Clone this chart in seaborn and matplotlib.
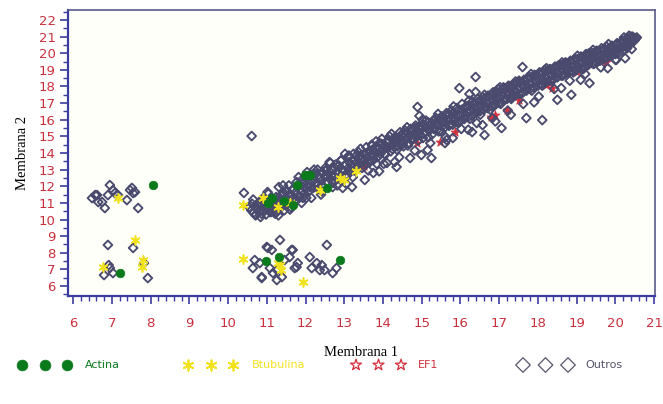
import numpy as np
import pandas as pd
import matplotlib
matplotlib.use("Agg")
import matplotlib.pyplot as plt
import seaborn as sns
from matplotlib.ticker import MultipleLocator

# ---------------- data ----------------
outros_x = [
    10.55,10.60,10.62,10.66,10.70,10.72,10.75,10.78,10.80,10.83,
    10.86,10.88,10.90,10.93,10.95,10.98,11.00,11.03,11.05,11.08,
    11.10,11.12,11.15,11.18,11.20,11.24,11.27,11.30,11.33,11.36,
    11.40,11.43,11.46,11.50,11.53,11.56,11.60,11.63,11.66,11.70,
    11.73,11.76,11.80,11.83,11.86,11.90,11.93,11.96,12.00,12.03,
    12.06,12.10,12.13,12.16,12.20,12.23,12.26,12.30,12.33,12.36,
    12.40,12.43,12.46,12.50,12.53,12.56,12.60,12.63,12.66,12.70,
    12.73,12.76,12.80,12.83,12.86,12.90,12.93,12.96,13.00,13.03,
    13.06,13.10,13.13,13.16,13.20,13.23,13.26,13.30,13.33,13.36,
    13.40,13.43,13.46,13.50,13.53,13.56,13.60,13.63,13.66,13.70,
    13.73,13.76,13.80,13.83,13.86,13.90,13.93,13.96,14.00,14.03,
    14.06,14.10,14.13,14.16,14.20,14.23,14.26,14.30,14.33,14.36,
    14.40,14.43,14.46,14.50,14.53,14.56,14.60,14.63,14.66,14.70,
    14.73,14.76,14.80,14.83,14.86,14.90,14.93,14.96,15.00,15.03,
    15.06,15.10,15.13,15.16,15.20,15.23,15.26,15.30,15.33,15.36,
    15.40,15.43,15.46,15.50,15.53,15.56,15.60,15.63,15.66,15.70,
    15.73,15.76,15.80,15.83,15.86,15.90,15.93,15.96,16.00,16.03,
    16.06,16.10,16.13,16.16,16.20,16.23,16.26,16.30,16.33,16.36,
    16.40,16.43,16.46,16.50,16.53,16.56,16.60,16.63,16.66,16.70,
    16.73,16.76,16.80,16.83,16.86,16.90,16.93,16.96,17.00,17.03,
    17.06,17.10,17.13,17.16,17.20,17.23,17.26,17.30,17.33,17.36,
    17.40,17.43,17.46,17.50,17.53,17.56,17.60,17.63,17.66,17.70,
    17.73,17.76,17.80,17.83,17.86,17.90,17.93,17.96,18.00,18.03,
    18.06,18.10,18.13,18.16,18.20,18.23,18.26,18.30,18.33,18.36,
    18.40,18.43,18.46,18.50,18.53,18.56,18.60,18.63,18.66,18.70,
    18.73,18.76,18.80,18.83,18.86,18.90,18.93,18.96,19.00,19.03,
    19.06,19.10,19.13,19.16,19.20,19.23,19.26,19.30,19.33,19.36,
    19.40,19.43,19.46,19.50,19.53,19.56,19.60,19.63,19.66,19.70,
    19.73,19.76,19.80,19.83,19.86,19.90,19.93,19.96,20.00,20.03,
    20.06,20.10,20.13,20.16,20.20,20.23,20.26,20.30,20.33,20.36,
    20.40,20.43,20.46,20.50,20.53,20.40,20.30,20.20,20.46,20.35,
    # second pass along the band
    10.65,10.71,10.77,10.84,10.91,10.97,11.04,11.11,11.17,11.24,
    11.31,11.37,11.44,11.51,11.57,11.64,11.71,11.77,11.84,11.91,
    11.97,12.04,12.11,12.17,12.24,12.31,12.37,12.44,12.51,12.57,
    12.64,12.71,12.77,12.84,12.91,12.97,13.04,13.11,13.17,13.24,
    13.31,13.37,13.44,13.51,13.57,13.64,13.71,13.77,13.84,13.91,
    13.97,14.04,14.11,14.17,14.24,14.31,14.37,14.44,14.51,14.57,
    14.64,14.71,14.77,14.84,14.91,14.97,15.04,15.11,15.17,15.24,
    15.31,15.37,15.44,15.51,15.57,15.64,15.71,15.77,15.84,15.91,
    15.97,16.04,16.11,16.17,16.24,16.31,16.37,16.44,16.51,16.57,
    16.64,16.71,16.77,16.84,16.91,16.97,17.04,17.11,17.17,17.24,
    17.31,17.37,17.44,17.51,17.57,17.64,17.71,17.77,17.84,17.91,
    17.97,18.04,18.11,18.17,18.24,18.31,18.37,18.44,18.51,18.57,
    18.64,18.71,18.77,18.84,18.91,18.97,19.04,19.11,19.17,19.24,
    19.31,19.37,19.44,19.51,19.57,19.64,19.71,19.77,19.84,19.91,
    19.97,20.04,20.11,20.17,20.24,20.31,20.37,20.44,20.49,20.55,
    # outer edges of the band
    11.02,11.22,11.42,11.62,11.82,12.02,12.22,12.42,12.62,12.82,
    13.02,13.22,13.42,13.62,13.82,14.02,14.22,14.42,14.62,14.82,
    15.02,15.22,15.42,15.62,15.82,16.02,16.22,16.42,16.62,16.82,
    17.02,17.22,17.42,17.62,17.82,18.02,18.22,18.42,18.62,18.82,
    19.02,19.22,19.42,19.62,19.82,20.02,20.22,20.42,13.12,15.52,
    12.12,12.92,13.72,14.52,15.32,16.12,16.92,17.72,18.52,19.32,
    12.52,13.32,14.12,14.92,15.72,16.52,17.32,18.12,18.92,19.72,
    # scatter around the band
    10.41,10.61,12.96,13.20,13.53,14.35,14.30,14.99,15.15,15.25,
    15.64,16.30,16.62,16.57,17.06,17.70,18.11,18.50,18.86,19.33,
    20.00,14.89,14.94,16.39,15.97,16.23,16.39,17.60,12.40,11.60,
    11.90,11.30,13.90,14.70,15.60,16.20,17.30,18.60,19.80,20.25,
    12.15,13.75,14.10,16.90,17.90,19.10,12.70,11.45,13.05,15.80,
    # left cluster
    6.95,7.03,6.62,6.49,6.75,6.82,6.90,7.08,7.16,7.47,
    7.55,7.39,7.68,6.57,7.52,7.60,6.65,6.90,7.55,6.95,
    6.80,7.03,7.83,7.93,6.92,
    # lower middle cluster
    11.34,11.00,11.13,11.64,12.55,10.69,10.82,10.64,10.87,11.08,
    11.16,11.26,11.39,11.46,11.59,11.80,11.72,12.11,12.29,12.16,
    12.42,12.49,12.80,12.70,11.03,11.26,11.67,11.77,12.37,10.87,
]
outros_y = [
    10.75,10.55,10.95,10.40,10.80,10.30,10.65,11.00,10.45,10.85,
    10.35,10.60,11.05,10.50,10.75,10.30,11.15,10.65,10.95,10.45,
    10.85,11.25,10.60,11.00,10.40,11.35,10.80,11.10,10.65,11.45,
    11.05,11.55,10.90,11.30,11.70,11.15,11.50,10.95,11.80,11.35,
    11.60,11.20,11.95,11.45,12.10,11.70,11.30,12.20,11.85,12.45,
    12.05,11.75,12.60,12.25,11.90,12.40,12.75,12.10,11.85,12.55,
    12.30,12.85,12.00,12.60,12.95,12.20,12.75,12.45,13.05,12.30,
    12.65,13.10,12.45,12.85,13.25,12.60,13.00,12.35,12.90,13.30,
    12.70,13.10,13.45,12.85,13.25,13.60,12.95,13.40,13.15,13.70,
    13.30,13.85,13.10,13.55,13.95,13.35,13.75,14.10,13.45,13.90,
    14.20,13.60,14.05,14.40,13.75,14.25,13.95,14.55,14.15,14.45,
    13.90,14.60,14.30,14.75,14.10,14.50,14.85,14.35,14.70,14.20,
    14.90,14.55,15.05,14.75,14.40,15.10,14.85,15.25,14.60,15.00,
    15.35,14.80,15.15,15.50,14.95,15.30,15.60,15.10,15.45,14.90,
    15.70,15.25,15.55,15.85,15.35,15.65,15.10,15.95,15.50,15.75,
    15.40,16.00,15.70,15.30,16.10,15.85,15.55,16.25,15.95,15.65,
    16.30,16.00,15.70,16.40,16.10,15.85,16.55,16.25,15.95,16.60,
    16.35,16.05,16.75,16.45,16.15,16.85,16.55,16.25,16.95,16.65,
    16.40,17.05,16.75,16.50,17.15,16.85,16.60,17.30,17.00,16.70,
    17.35,17.10,16.80,17.50,17.20,16.90,17.60,17.30,17.00,17.70,
    17.45,17.15,17.85,17.55,17.25,17.95,17.65,17.35,18.05,17.75,
    17.45,18.15,17.85,17.55,18.25,17.95,17.65,18.35,18.05,17.75,
    18.45,18.15,17.85,18.55,18.25,17.95,18.65,18.35,18.05,18.75,
    18.45,18.15,18.85,18.55,18.25,18.95,18.65,18.35,19.00,18.70,
    18.45,19.10,18.80,18.55,19.20,18.90,18.65,19.30,19.00,18.75,
    19.40,19.10,18.85,19.50,19.20,18.95,19.55,19.25,19.00,19.65,
    19.35,19.10,19.75,19.45,19.20,19.85,19.55,19.30,19.90,19.65,
    19.40,20.00,19.75,19.50,20.10,19.80,19.55,20.15,19.90,19.70,
    20.25,20.00,19.75,20.30,20.05,19.85,20.40,20.15,19.95,20.50,
    20.25,20.05,20.60,20.35,20.15,20.70,20.45,20.30,20.80,20.55,
    20.85,20.65,20.95,20.80,20.90,21.00,20.90,20.75,20.70,21.05,
    # second pass along the band
    11.20,10.25,10.85,10.15,11.30,10.70,11.55,10.45,11.05,10.85,
    11.95,10.85,11.60,10.95,12.05,11.45,11.05,12.25,11.30,12.40,
    11.55,12.85,11.95,12.70,12.15,13.00,12.45,11.95,13.10,12.60,
    13.40,12.20,13.30,12.75,13.55,12.85,12.55,13.75,13.00,13.95,
    13.05,14.05,13.70,13.20,14.35,13.55,14.50,13.85,13.35,14.60,
    14.85,13.95,14.70,15.00,14.25,14.95,14.40,15.25,14.55,15.35,
    14.45,15.45,14.90,15.65,14.75,15.55,15.15,15.95,14.95,15.80,
    15.45,16.10,15.30,16.20,15.70,16.40,15.65,16.55,15.95,16.70,
    15.85,16.95,16.20,16.80,16.05,17.10,16.45,17.25,16.30,17.35,
    16.75,17.45,16.60,17.65,17.05,17.85,16.95,17.95,17.30,18.05,
    17.25,18.15,17.70,18.35,17.55,18.40,17.90,18.60,17.75,18.70,
    18.25,18.85,18.05,19.00,18.50,19.05,18.35,19.20,18.80,19.30,
    18.65,19.45,19.00,19.55,18.85,19.65,19.20,19.80,19.05,19.95,
    19.45,20.05,19.35,20.15,19.75,20.30,19.65,20.40,20.00,20.45,
    20.10,20.60,20.35,20.75,20.50,20.85,20.60,21.00,20.80,20.95,
    # outer edges of the band
    11.65,10.35,12.05,10.75,12.55,11.30,13.00,11.70,13.45,12.05,
    13.95,12.55,14.25,12.95,14.70,13.35,15.15,13.75,15.55,14.15,
    16.00,14.60,16.35,14.95,16.80,15.45,17.15,15.80,17.50,16.10,
    17.95,16.55,18.30,16.95,18.75,17.40,19.10,17.85,19.45,18.35,
    19.85,18.75,20.20,19.15,20.55,19.60,20.95,20.25,13.85,15.90,
    12.65,13.55,14.45,15.20,16.00,16.75,17.70,18.50,19.25,20.00,
    12.95,13.85,14.75,15.55,16.30,17.20,17.90,18.80,19.60,20.25,
    # scatter around the band
    11.60,15.02,11.90,11.95,12.38,13.16,13.46,13.88,14.18,13.70,
    14.78,15.26,15.08,15.68,15.50,16.10,15.98,17.20,17.50,18.20,
    19.60,16.77,16.23,18.57,17.90,17.55,17.67,19.17,11.50,10.60,
    11.00,10.25,12.90,13.70,14.60,15.40,16.30,17.90,19.10,19.70,
    11.30,12.80,13.40,15.90,17.05,18.40,11.95,10.55,12.15,14.90,
    # left cluster
    12.07,11.77,11.47,11.29,11.05,10.69,11.47,11.59,11.47,11.77,
    11.59,11.17,10.69,11.47,11.90,11.65,11.05,8.47,8.29,7.08,
    6.66,6.78,7.38,6.48,7.26,
    # lower middle cluster
    8.77,8.35,8.17,8.17,8.47,7.56,7.38,7.08,6.54,7.08,
    6.78,6.96,6.54,7.56,7.74,7.38,7.08,7.74,7.38,7.08,
    7.26,6.96,7.08,6.78,8.29,6.36,8.17,7.14,6.96,6.48,
]

actina_x = [8.06, 7.20, 10.97, 11.32, 12.90, 11.98, 12.05, 12.12, 11.03, 11.13, 11.77, 12.55, 11.67, 11.45]
actina_y = [12.07, 6.78, 7.50, 7.75, 7.56, 12.68, 12.68, 12.65, 11.00, 11.30, 12.07, 11.90, 10.87, 11.10]

btub_x = [10.38, 10.90, 11.28, 11.60, 12.37, 13.00, 10.38, 11.33, 11.38, 11.93, 7.60, 7.80, 7.78, 7.16, 6.77, 11.28, 12.90, 13.30]
btub_y = [10.87, 11.30, 10.77, 11.00, 11.80, 12.40, 7.62, 7.26, 6.96, 6.24, 8.77, 7.56, 7.14, 11.30, 7.14, 7.40, 12.50, 12.90]

ef1_x = [15.46, 14.87, 15.85, 16.80, 17.20, 17.50, 17.19, 18.30, 19.00, 19.60, 19.76, 18.35, 16.90, 13.50, 14.10, 18.20]
ef1_y = [14.66, 14.60, 15.26, 16.17, 17.80, 17.20, 16.60, 18.20, 18.85, 19.60, 19.50, 17.90, 16.30, 13.20, 14.30, 18.10]

x_ticks = list(range(6, 22))
y_ticks = list(range(6, 23))
series_names = ["Actina", "Btubulina", "EF1", "Outros"]

# ---------------- styling ----------------
sns.set_theme(style="white")
plt.rcParams["font.family"] = ["DejaVu Sans"]

C_ACT = "#0b7a1c"
C_BTU = "#f2e21e"
C_EF1 = "#d2303c"
C_OUT = "#4a4a6e"
C_TICK = "#c8303c"
C_AXIS = "#3c3ca0"

fig = plt.figure(figsize=(6.63, 4.04), dpi=100)
fig.patch.set_facecolor("white")
ax = fig.add_axes([68 / 663, 108 / 404, (655 - 68) / 663, (296 - 10) / 404])
ax.set_facecolor("#fffffa")

df_out = pd.DataFrame({"x": outros_x, "y": outros_y})
df_act = pd.DataFrame({"x": actina_x, "y": actina_y})
df_btu = pd.DataFrame({"x": btub_x, "y": btub_y})
df_ef1 = pd.DataFrame({"x": ef1_x, "y": ef1_y})

sns.scatterplot(data=df_ef1, x="x", y="y", ax=ax, marker="*", s=45,
                color=C_EF1, edgecolor=C_EF1, linewidth=0.6, zorder=2, legend=False)
sns.scatterplot(data=df_out, x="x", y="y", ax=ax, marker="D", s=20,
                facecolor="none", edgecolor=C_OUT, linewidth=1.35, zorder=3, legend=False)
sns.scatterplot(data=df_btu, x="x", y="y", ax=ax, marker=(6, 2, 0), s=40,
                color=C_BTU, edgecolor=C_BTU, linewidth=1.2, zorder=4, legend=False)
sns.scatterplot(data=df_act, x="x", y="y", ax=ax, marker="o", s=38,
                color=C_ACT, edgecolor=C_ACT, linewidth=0.5, zorder=5, legend=False)

ax.set_xlim(5.87, 21.02)
ax.set_ylim(5.40, 22.6)
ax.set_xticks(x_ticks)
ax.set_yticks(y_ticks)
ax.xaxis.set_minor_locator(MultipleLocator(0.2))
ax.yaxis.set_minor_locator(MultipleLocator(0.5))
ax.tick_params(axis="both", which="major", direction="out", length=6, width=1.2,
               color=C_AXIS, labelcolor=C_TICK, labelsize=9.5, pad=3)
ax.tick_params(axis="both", which="minor", direction="out", length=3.5, width=1.0,
               color=C_AXIS)
ax.tick_params(axis="x", which="major", pad=9)
ax.tick_params(bottom=True, left=True, which="both")

for side in ["left", "bottom"]:
    ax.spines[side].set_color(C_AXIS)
    ax.spines[side].set_linewidth(1.6)
for side in ["top", "right"]:
    ax.spines[side].set_color("#5a5a8a")
    ax.spines[side].set_linewidth(1.2)
    ax.spines[side].set_visible(True)

ax.set_xlabel("Membrana 1", family=["Liberation Serif", "DejaVu Serif"],
              fontsize=10.5, color="black", labelpad=12)
ax.set_ylabel("Membrana 2", family=["Liberation Serif", "DejaVu Serif"],
              fontsize=10.5, color="black", labelpad=7)

# ---------------- legend at the bottom ----------------
lax = fig.add_axes([0, 0, 1, 1], facecolor="none")
lax.set_xlim(0, 663)
lax.set_ylim(404, 0)
lax.axis("off")
leg_y = 365
leg_items = [
    (22, 85, "o", 60, C_ACT, C_ACT, 0.5),
    (188, 252, (6, 2, 0), 55, C_BTU, C_BTU, 1.3),
    (356, 418, "*", 70, "none", C_EF1, 0.9),
    (523, 585, "D", 55, "none", "#55556a", 0.9),
]
for (mx, tx, mk, ms, fc, ec, lw), name in zip(leg_items, series_names):
    for k in range(3):
        lax.scatter([mx + k * 22.5], [leg_y], marker=mk, s=ms, facecolor=fc,
                    edgecolor=ec, linewidth=lw)
    lax.text(tx, leg_y, name, color=ec, fontsize=8, va="center", ha="left")

fig.savefig("out.png", dpi=100)
